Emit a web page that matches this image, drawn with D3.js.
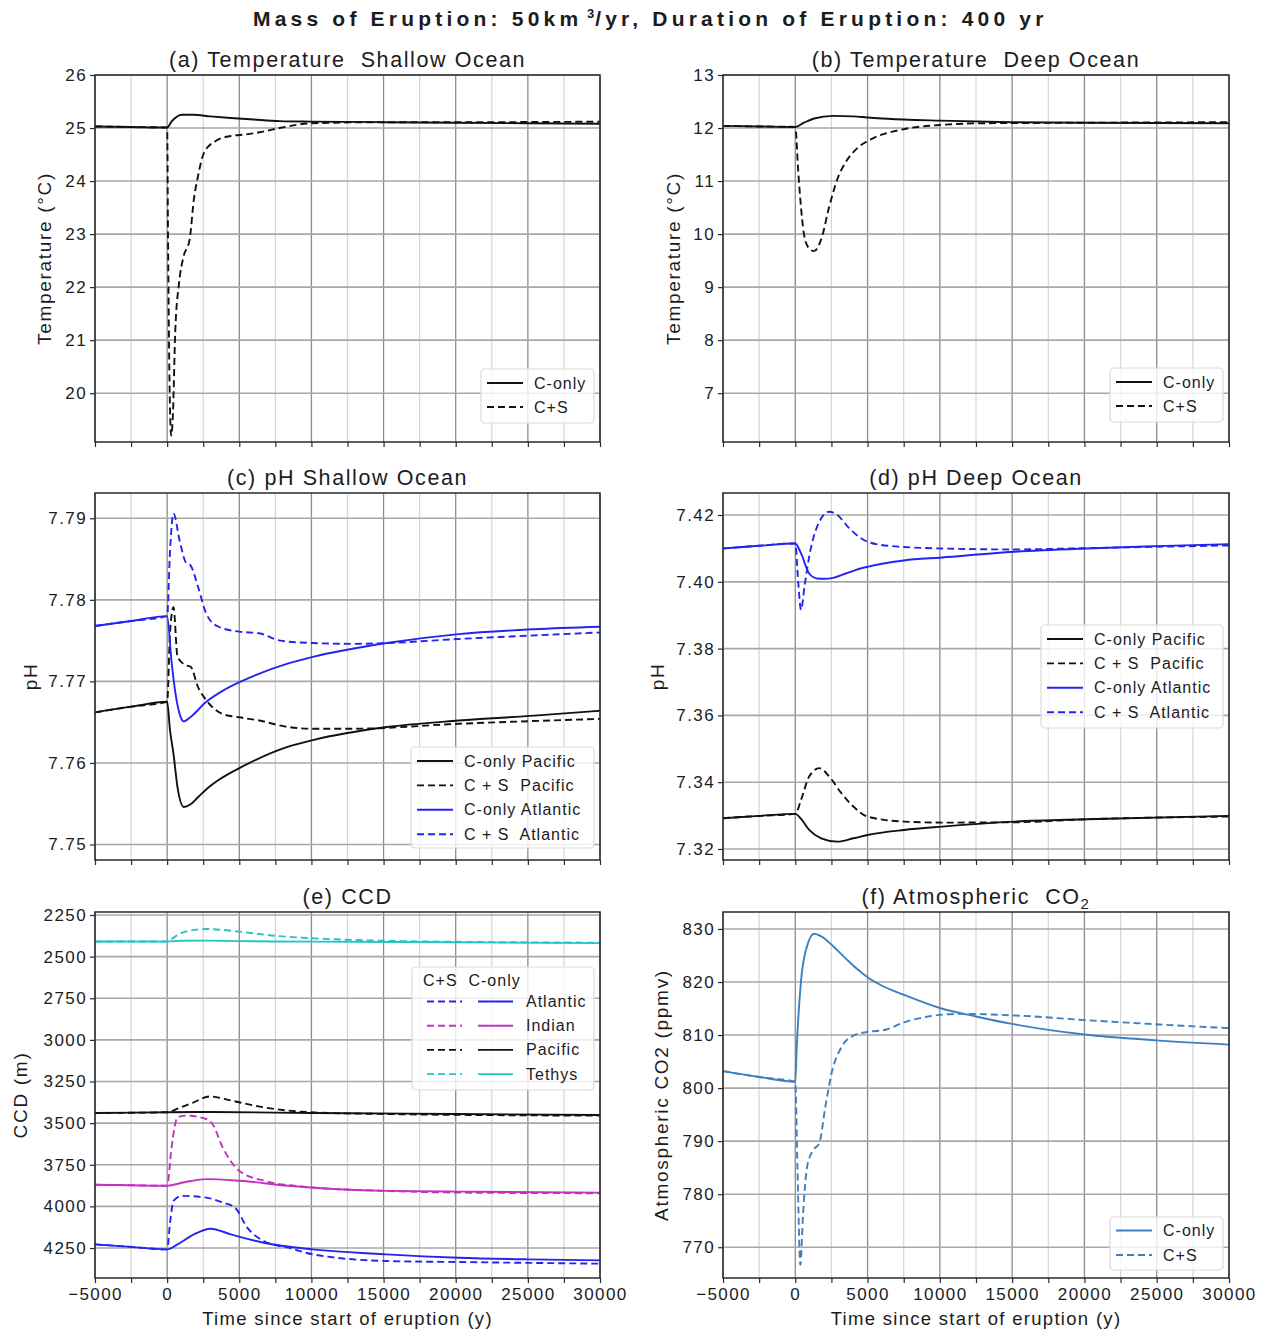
<!DOCTYPE html>
<html>
<head>
<meta charset="utf-8">
<script src="https://cdn.jsdelivr.net/npm/d3@7"></script>
<style>
  body { margin: 0; background: #fff; }
  text { font-family: "Liberation Sans", Arial, sans-serif; fill: #1c1c1c; white-space: pre; }
  .tick text { font-size: 17px; letter-spacing: 1.4px; }
  .ptitle { font-size: 21.5px; letter-spacing: 1.6px; }
  .ylabel { font-size: 19px; letter-spacing: 1.7px; }
  .xlabel { font-size: 18.5px; letter-spacing: 1.3px; }
  .leg { font-size: 16px; letter-spacing: 1px; }
  .main { font-size: 21px; font-weight: bold; letter-spacing: 4.2px; }
</style>
</head>
<body>
<svg id="chart" width="1267" height="1333"></svg>
<script>
// ---- Time axis (years since start of eruption) ----
const timeDomain = [-5000, 30000];
const timeTicks = d3.range(-5000, 30001, 2500);
const timeLabelTicks = d3.range(-5000, 30001, 5000);

// ---- (a) Temperature, shallow ocean (°C) ----
const tempShallowCOnly = [[-5000,25.03],[-2500,25.02],[0,25.01],[300,25.12],[600,25.2],[1000,25.25],[1800,25.25],[3000,25.22],[4400,25.19],[6000,25.16],[7800,25.13],[10000,25.12],[15000,25.11],[20000,25.1],[25000,25.09],[30000,25.08]];
const tempShallowCS = [[-5000,25.03],[-2500,25.02],[0,25.01],[60,23.0],[150,20.5],[280,19.2],[400,19.6],[560,21.15],[830,22.09],[1140,22.58],[1560,22.9],[1850,23.65],[2130,24.08],[2550,24.53],[3270,24.74],[4400,24.85],[5500,24.88],[6400,24.92],[7800,25.0],[10000,25.09],[15000,25.11],[20000,25.11],[30000,25.12]];
const tempShallowTicks = [20, 21, 22, 23, 24, 25, 26];

// ---- (b) Temperature, deep ocean (°C) ----
const tempDeepCOnly = [[-5000,12.04],[-2500,12.03],[0,12.02],[600,12.1],[1300,12.18],[2600,12.23],[4000,12.22],[5000,12.2],[7500,12.16],[10000,12.14],[15000,12.11],[20000,12.1],[30000,12.09]];
const tempDeepCS = [[-5000,12.04],[-2500,12.03],[0,12.02],[200,11.2],[350,10.65],[600,10.0],[900,9.75],[1290,9.68],[1790,9.9],[2350,10.52],[2900,11.03],[3450,11.34],[4290,11.62],[5400,11.81],[7350,11.97],[10130,12.06],[13000,12.09],[20000,12.1],[30000,12.11]];
const tempDeepTicks = [7, 8, 9, 10, 11, 12, 13];

// ---- (c) pH, shallow ocean ----
const phShallowPacCOnly = [[-5000,7.7662],[-2500,7.7669],[0,7.7675],[200,7.764],[440,7.7611],[720,7.757],[1150,7.7546],[1600,7.7549],[2140,7.7558],[2800,7.7569],[3560,7.7579],[5260,7.7596],[8400,7.762],[10100,7.7628],[15220,7.7644],[20200,7.7652],[25450,7.7658],[30000,7.7664]];
const phShallowPacCS = [[-5000,7.7662],[-2500,7.7669],[0,7.7675],[200,7.776],[440,7.7791],[720,7.773],[1290,7.772],[1630,7.7718],[2140,7.7693],[2710,7.7677],[3850,7.766],[4990,7.7656],[6380,7.7652],[8400,7.7644],[10100,7.7642],[13000,7.7642],[20200,7.7648],[30000,7.7654]];
const phShallowAtlCOnly = [[-5000,7.7768],[-2500,7.7774],[0,7.778],[300,7.7725],[580,7.7685],[900,7.7658],[1150,7.7651],[1600,7.7656],[2710,7.7675],[4000,7.769],[5260,7.7701],[8400,7.7722],[10100,7.773],[15220,7.7747],[20200,7.7758],[25450,7.7764],[30000,7.7767]];
const phShallowAtlCS = [[-5000,7.7768],[-2500,7.7774],[0,7.778],[200,7.786],[440,7.7906],[860,7.7873],[1290,7.7846],[1630,7.7842],[2140,7.7816],[2710,7.7783],[3560,7.7767],[4990,7.7761],[6380,7.7759],[7830,7.775],[10100,7.7747],[13000,7.7746],[15220,7.7747],[20200,7.7752],[25000,7.7756],[30000,7.776]];
const phShallowTicks = [7.75, 7.76, 7.77, 7.78, 7.79];

// ---- (d) pH, deep ocean ----
const phDeepPacCOnly = [[-5000,7.3292],[-2500,7.3299],[0,7.3305],[400,7.329],[960,7.3257],[1790,7.3232],[2910,7.3222],[4020,7.3232],[5000,7.3242],[7520,7.3257],[10150,7.3267],[15160,7.3282],[20160,7.3289],[30000,7.3299]];
const phDeepPacCS = [[-5000,7.3292],[-2500,7.3299],[0,7.3305],[400,7.3347],[960,7.3417],[1660,7.3442],[2350,7.3417],[3190,7.3367],[4020,7.3327],[5000,7.3297],[7520,7.3282],[10150,7.3279],[15160,7.328],[20160,7.3289],[30000,7.3297]];
const phDeepAtlCOnly = [[-5000,7.41],[-2500,7.4108],[0,7.4115],[400,7.4085],[960,7.4025],[1510,7.401],[2000,7.4009],[2630,7.4012],[3500,7.4025],[4200,7.4036],[5000,7.4045],[6000,7.4054],[7500,7.4064],[10150,7.4073],[15160,7.409],[20160,7.41],[25000,7.4107],[30000,7.4113]];
const phDeepAtlCS = [[-5000,7.41],[-2500,7.4108],[0,7.4115],[200,7.4],[400,7.3916],[650,7.399],[960,7.4075],[1510,7.4165],[2350,7.421],[2910,7.42],[3740,7.416],[5000,7.412],[6680,7.4107],[10000,7.41],[15160,7.4097],[20160,7.4101],[30000,7.4109]];
const phDeepTicks = [7.32, 7.34, 7.36, 7.38, 7.40, 7.42];

// ---- (e) Carbonate compensation depth (m) ----
const ccdAtlanticCOnly = [[-5000,4228],[-2500,4243],[0,4258],[720,4228],[1860,4168],[3000,4134],[4420,4168],[6700,4218],[10100,4258],[15220,4288],[20200,4308],[25000,4318],[30000,4324]];
const ccdAtlanticCS = [[-5000,4228],[-2500,4243],[0,4258],[200,4100],[440,3967],[1020,3937],[2710,3947],[3850,3977],[4700,4007],[5550,4127],[6700,4208],[8400,4248],[10100,4288],[15220,4328],[20200,4334],[30000,4344]];
const ccdIndianCOnly = [[-5000,3870],[-2500,3873],[0,3876],[1200,3855],[2710,3836],[4990,3846],[8400,3876],[15220,3907],[20200,3911],[30000,3917]];
const ccdIndianCS = [[-5000,3870],[-2500,3873],[0,3876],[300,3650],[720,3465],[1290,3455],[2710,3475],[3140,3505],[3850,3646],[4990,3786],[6700,3846],[10100,3886],[15220,3907],[20200,3917],[30000,3921]];
const ccdPacificCOnly = [[-5000,3439],[0,3435],[2700,3433],[10000,3439],[20000,3445],[30000,3451]];
const ccdPacificCS = [[-5000,3439],[0,3435],[800,3410],[1570,3385],[3000,3340],[4420,3364],[6700,3405],[10000,3435],[15000,3445],[30000,3455]];
const ccdTethysCOnly = [[-5000,2409],[0,2409],[1000,2405],[2700,2404],[5000,2407],[10000,2410],[20000,2414],[30000,2419]];
const ccdTethysCS = [[-5000,2409],[0,2409],[300,2395],[720,2370],[1500,2345],[2700,2334],[5000,2350],[7500,2375],[10100,2390],[15200,2405],[20200,2411],[30000,2416]];
const ccdTicks = [2250, 2500, 2750, 3000, 3250, 3500, 3750, 4000, 4250];

// ---- (f) Atmospheric CO2 (ppmv) ----
const co2COnly = [[-5000,803.2],[-2500,802.1],[0,801.2],[100,807.7],[400,820.3],[800,826.6],[1300,829.1],[1800,828.6],[2600,826.8],[3500,824.4],[4300,822.4],[5000,820.9],[6000,819.3],[7500,817.6],[10000,815.1],[12500,813.5],[15000,812.1],[20000,810.1],[25000,809.0],[30000,808.2]];
const co2CS = [[-5000,803.2],[-2500,802.1],[0,801.2],[150,785],[350,766.7],[540,776.4],[820,785.2],[1240,788.3],[1660,789.6],[2080,796.5],[2500,802.7],[3190,807.7],[4020,809.9],[5000,810.6],[6240,811],[7520,812.4],[9200,813.5],[11400,814],[15160,813.7],[20160,812.8],[25170,812],[30000,811.3]];
const co2Ticks = [770, 780, 790, 800, 810, 820, 830];

// ---- colours and dash styles ----
const BLACK = "#111111", BLUE = "#2424f2", MAGENTA = "#c232c2", CYAN = "#26c4c4", STEEL = "#3d7fc2";
const DASH = "7,4";

const svg = d3.select("#chart");
svg.append("rect").attr("width", 1267).attr("height", 1333).attr("fill", "#fff");

// Figure title with superscript
const mainTitle = svg.append("text").attr("class", "main").attr("x", 253).attr("y", 26);
mainTitle.append("tspan").text("Mass of Eruption: 50km");
mainTitle.append("tspan").attr("dy", -8).style("font-size", "13px").style("letter-spacing", "1px").text(" 3");
mainTitle.append("tspan").attr("dy", 8).text("/yr, Duration of Eruption: 400 yr");

let clipId = 0;

function drawPanel(cfg) {
  const x = d3.scaleLinear().domain(timeDomain).range([cfg.left, cfg.right]);
  const y = d3.scaleLinear().domain(cfg.yDomain).range([cfg.bottom, cfg.top]);
  const g = svg.append("g");

  // grid: minor verticals, major verticals, horizontals
  g.selectAll(".vminor").data(timeTicks.filter(t => t % 5000 !== 0)).join("line")
    .attr("x1", d => x(d)).attr("x2", d => x(d)).attr("y1", cfg.top).attr("y2", cfg.bottom)
    .attr("stroke", "#d6d6d6").attr("stroke-width", 1.2);
  g.selectAll(".vmajor").data(timeLabelTicks).join("line")
    .attr("x1", d => x(d)).attr("x2", d => x(d)).attr("y1", cfg.top).attr("y2", cfg.bottom)
    .attr("stroke", "#8c8c8c").attr("stroke-width", 1.3);
  g.selectAll(".hmajor").data(cfg.yTicks).join("line")
    .attr("x1", cfg.left).attr("x2", cfg.right).attr("y1", d => y(d)).attr("y2", d => y(d))
    .attr("stroke", "#a8a8a8").attr("stroke-width", 1.6);

  // series
  const id = "clip" + (clipId++);
  svg.append("clipPath").attr("id", id).append("rect")
    .attr("x", cfg.left).attr("y", cfg.top).attr("width", cfg.right - cfg.left).attr("height", cfg.bottom - cfg.top);
  const line = d3.line().x(d => x(d[0])).y(d => y(d[1])).curve(d3.curveMonotoneX);
  const lg = g.append("g").attr("clip-path", `url(#${id})`);
  cfg.series.forEach(s => {
    lg.append("path").attr("d", line(s.data)).attr("fill", "none")
      .attr("stroke", s.color).attr("stroke-width", 1.9)
      .attr("stroke-dasharray", s.dash ? DASH : null)
      .attr("stroke-linejoin", "round");
  });

  // legend
  if (cfg.legend) cfg.legend(g);

  // frame
  g.append("rect").attr("x", cfg.left).attr("y", cfg.top)
    .attr("width", cfg.right - cfg.left).attr("height", cfg.bottom - cfg.top)
    .attr("fill", "none").attr("stroke", "#2a2a2a").attr("stroke-width", 1.5);

  // axes
  const xa = g.append("g").attr("transform", `translate(0,${cfg.bottom})`)
    .call(d3.axisBottom(x).tickValues(timeTicks).tickSize(5).tickSizeOuter(0).tickPadding(5)
      .tickFormat(d => (cfg.showX && d % 5000 === 0) ? d3.format("d")(d).replace("-", "\u2212") : ""));
  xa.select(".domain").remove();
  xa.selectAll(".tick line").attr("stroke", "#2a2a2a").attr("stroke-width", 1.2);

  const ya = g.append("g").attr("transform", `translate(${cfg.left},0)`)
    .call(d3.axisLeft(y).tickValues(cfg.yTicks).tickSize(5).tickSizeOuter(0).tickPadding(3)
      .tickFormat(cfg.yFormat));
  ya.select(".domain").remove();
  ya.selectAll(".tick line").attr("stroke", "#2a2a2a").attr("stroke-width", 1.2);

  // titles
  const t = g.append("text").attr("class", "ptitle").attr("text-anchor", "middle")
    .attr("x", (cfg.left + cfg.right) / 2).attr("y", cfg.top - 8);
  cfg.title(t);

  g.append("text").attr("class", "ylabel").attr("text-anchor", "middle")
    .attr("transform", `translate(${cfg.yLabelX},${(cfg.top + cfg.bottom) / 2}) rotate(-90)`)
    .text(cfg.yLabel);

  if (cfg.showX) {
    g.append("text").attr("class", "xlabel").attr("text-anchor", "middle")
      .attr("x", (cfg.left + cfg.right) / 2).attr("y", cfg.bottom + 47)
      .text("Time since start of eruption (y)");
  }
}

// Legend box with line samples
function legendBox(g, box, rows, opts = {}) {
  const lg = g.append("g");
  lg.append("rect").attr("x", box.x).attr("y", box.y).attr("width", box.w).attr("height", box.h)
    .attr("rx", 4).attr("fill", "#fff").attr("fill-opacity", 0.8)
    .attr("stroke", "#d9d9d9").attr("stroke-width", 1.2);
  const first = opts.first || 14, step = opts.step || 24.4;
  rows.forEach((r, i) => {
    const yy = box.y + first + i * step;
    r.samples.forEach(s => {
      lg.append("line").attr("x1", box.x + s.x0).attr("x2", box.x + s.x1)
        .attr("y1", yy).attr("y2", yy).attr("stroke", s.color).attr("stroke-width", 1.9)
        .attr("stroke-dasharray", s.dash ? DASH : null);
    });
    lg.append("text").attr("class", "leg").attr("x", box.x + (opts.textX || 53)).attr("y", yy + 5.5).text(r.label);
  });
  return lg;
}

const simpleSample = (c, d) => [{ x0: 6, x1: 42, color: c, dash: d }];
const fmt2 = d3.format(".2f");
const fmt0 = d3.format("d");

const colL = [95, 600], colR = [723, 1229];
const row1 = [75, 442], row2 = [493, 860], row3 = [912, 1278];

drawPanel({
  left: colL[0], right: colL[1], top: row1[0], bottom: row1[1],
  yDomain: [19.08, 26], yTicks: tempShallowTicks, yFormat: fmt0,
  yLabel: "Temperature (°C)", yLabelX: 51, showX: false,
  title: t => t.text("(a) Temperature  Shallow Ocean"),
  series: [{ data: tempShallowCOnly, color: BLACK }, { data: tempShallowCS, color: BLACK, dash: true }],
  legend: g => legendBox(g, { x: 481, y: 369, w: 113, h: 54 }, [
    { label: "C-only", samples: simpleSample(BLACK, false) },
    { label: "C+S", samples: simpleSample(BLACK, true) }], { first: 14, step: 24 })
});

drawPanel({
  left: colR[0], right: colR[1], top: row1[0], bottom: row1[1],
  yDomain: [6.08, 13], yTicks: tempDeepTicks, yFormat: fmt0,
  yLabel: "Temperature (°C)", yLabelX: 680, showX: false,
  title: t => t.text("(b) Temperature  Deep Ocean"),
  series: [{ data: tempDeepCOnly, color: BLACK }, { data: tempDeepCS, color: BLACK, dash: true }],
  legend: g => legendBox(g, { x: 1110, y: 368, w: 113, h: 54 }, [
    { label: "C-only", samples: simpleSample(BLACK, false) },
    { label: "C+S", samples: simpleSample(BLACK, true) }], { first: 14, step: 24 })
});

drawPanel({
  left: colL[0], right: colL[1], top: row2[0], bottom: row2[1],
  yDomain: [7.7481, 7.7931], yTicks: phShallowTicks, yFormat: fmt2,
  yLabel: "pH", yLabelX: 37, showX: false,
  title: t => t.text("(c) pH Shallow Ocean"),
  series: [{ data: phShallowPacCOnly, color: BLACK }, { data: phShallowPacCS, color: BLACK, dash: true },
           { data: phShallowAtlCOnly, color: BLUE }, { data: phShallowAtlCS, color: BLUE, dash: true }],
  legend: g => legendBox(g, { x: 411, y: 747, w: 183, h: 101 }, [
    { label: "C-only Pacific", samples: simpleSample(BLACK, false) },
    { label: "C + S  Pacific", samples: simpleSample(BLACK, true) },
    { label: "C-only Atlantic", samples: simpleSample(BLUE, false) },
    { label: "C + S  Atlantic", samples: simpleSample(BLUE, true) }], { first: 14, step: 24.4 })
});

drawPanel({
  left: colR[0], right: colR[1], top: row2[0], bottom: row2[1],
  yDomain: [7.3167, 7.4266], yTicks: phDeepTicks, yFormat: fmt2,
  yLabel: "pH", yLabelX: 664, showX: false,
  title: t => t.text("(d) pH Deep Ocean"),
  series: [{ data: phDeepPacCOnly, color: BLACK }, { data: phDeepPacCS, color: BLACK, dash: true },
           { data: phDeepAtlCOnly, color: BLUE }, { data: phDeepAtlCS, color: BLUE, dash: true }],
  legend: g => legendBox(g, { x: 1041, y: 625, w: 182, h: 103 }, [
    { label: "C-only Pacific", samples: simpleSample(BLACK, false) },
    { label: "C + S  Pacific", samples: simpleSample(BLACK, true) },
    { label: "C-only Atlantic", samples: simpleSample(BLUE, false) },
    { label: "C + S  Atlantic", samples: simpleSample(BLUE, true) }], { first: 14, step: 24.4 })
});

const ccdSamples = c => [{ x0: 15, x1: 50, color: c, dash: true }, { x0: 66, x1: 101, color: c, dash: false }];
drawPanel({
  left: colL[0], right: colL[1], top: row3[0], bottom: row3[1],
  yDomain: [4430, 2232], yTicks: ccdTicks, yFormat: fmt0,
  yLabel: "CCD (m)", yLabelX: 27, showX: true,
  title: t => t.text("(e) CCD"),
  series: [{ data: ccdAtlanticCS, color: BLUE, dash: true }, { data: ccdAtlanticCOnly, color: BLUE },
           { data: ccdIndianCS, color: MAGENTA, dash: true }, { data: ccdIndianCOnly, color: MAGENTA },
           { data: ccdPacificCS, color: BLACK, dash: true }, { data: ccdPacificCOnly, color: BLACK },
           { data: ccdTethysCS, color: CYAN, dash: true }, { data: ccdTethysCOnly, color: CYAN }],
  legend: g => {
    const box = { x: 412, y: 967, w: 182, h: 123 };
    const lg = legendBox(g, box, [
      { label: "Atlantic", samples: ccdSamples(BLUE) },
      { label: "Indian", samples: ccdSamples(MAGENTA) },
      { label: "Pacific", samples: ccdSamples(BLACK) },
      { label: "Tethys", samples: ccdSamples(CYAN) }], { first: 34.5, step: 24.2, textX: 114 });
    lg.append("text").attr("class", "leg").attr("x", box.x + 11).attr("y", box.y + 19).text("C+S  C-only");
  }
});

drawPanel({
  left: colR[0], right: colR[1], top: row3[0], bottom: row3[1],
  yDomain: [764.2, 833.2], yTicks: co2Ticks, yFormat: fmt0,
  yLabel: "Atmospheric CO2 (ppmv)", yLabelX: 668, showX: true,
  title: t => {
    t.append("tspan").text("(f) Atmospheric  CO");
    t.append("tspan").attr("dy", 5).style("font-size", "15px").text("2");
  },
  series: [{ data: co2COnly, color: STEEL }, { data: co2CS, color: STEEL, dash: true }],
  legend: g => legendBox(g, { x: 1110, y: 1217, w: 113, h: 53 }, [
    { label: "C-only", samples: simpleSample(STEEL, false) },
    { label: "C+S", samples: simpleSample(STEEL, true) }], { first: 13.5, step: 24.5 })
});
</script>
</body>
</html>
